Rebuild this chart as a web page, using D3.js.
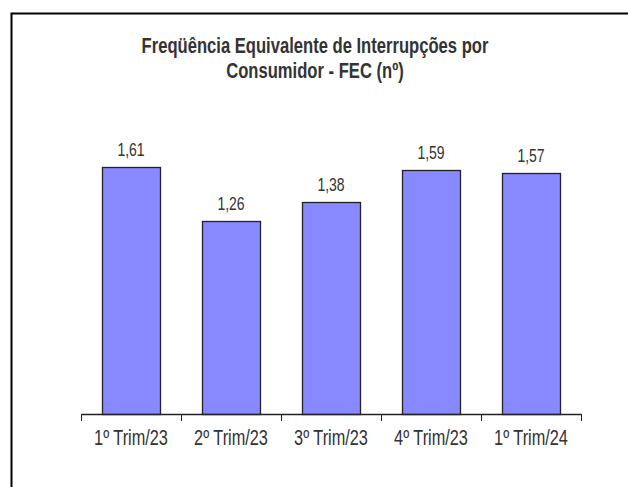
<!DOCTYPE html>
<html>
<head>
<meta charset="utf-8">
<script src="https://cdn.jsdelivr.net/npm/d3@7"></script>
<style>
  html, body { margin: 0; padding: 0; background: #fff; }
  svg { display: block; }
</style>
</head>
<body>
<svg id="chart" width="628" height="487"></svg>
<script>
// FEC quarterly values
const categories = ["1º Trim/23", "2º Trim/23", "3º Trim/23", "4º Trim/23", "1º Trim/24"];
const values = [1.61, 1.26, 1.38, 1.59, 1.57];
const titleLines = ["Freqüência Equivalente de Interrupções por", "Consumidor - FEC (nº)"];

const svg = d3.select("#chart");
const W = 628, H = 487;
const font = "Arial, 'Liberation Sans', sans-serif";
const stretch = 1.3; // tall, narrow lettering

// outer frame (top and left edges)
svg.append("path")
  .attr("d", `M11.5,${H} L11.5,13.5 L${W},13.5`)
  .attr("fill", "none")
  .attr("stroke", "#000")
  .attr("stroke-width", 2);

const plot = { left: 81, right: 581, bottom: 414, top: 138 };

const x = d3.scaleBand()
  .domain(categories)
  .range([plot.left, plot.right])
  .paddingInner(0.42)
  .paddingOuter(0.21);

const y = d3.scaleLinear()
  .domain([0, 1.8])
  .range([plot.bottom, plot.top]);

// title
svg.append("g")
  .selectAll("text")
  .data(titleLines)
  .join("text")
  .attr("transform", (d, i) => `translate(315,${53 + i * 25}) scale(1,${stretch})`)
  .attr("text-anchor", "middle")
  .attr("font-family", font)
  .attr("font-weight", "bold")
  .attr("font-size", 16.6)
  .attr("fill", "#333")
  .text(d => d);

// bars
svg.append("g")
  .selectAll("rect")
  .data(values)
  .join("rect")
  .attr("x", (d, i) => Math.round(x(categories[i])) + 0.5)
  .attr("y", d => Math.round(y(d)) + 0.5)
  .attr("width", Math.round(x.bandwidth()))
  .attr("height", d => Math.round(plot.bottom - y(d)))
  .attr("fill", "#8888ff")
  .attr("stroke", "#222")
  .attr("stroke-width", 1.3);

// value labels
const fmt = d => d.toFixed(2).replace(".", ",");
svg.append("g")
  .selectAll("text")
  .data(values)
  .join("text")
  .attr("transform", (d, i) => `translate(${x(categories[i]) + x.bandwidth() / 2},${y(d) - 11}) scale(1,${stretch})`)
  .attr("text-anchor", "middle")
  .attr("font-family", font)
  .attr("font-size", 14)
  .attr("fill", "#333")
  .text(fmt);

// category axis
const axis = d3.axisBottom(x).tickSize(0);
const gx = svg.append("g")
  .attr("transform", `translate(0,${plot.bottom})`)
  .call(axis);
gx.select(".domain")
  .attr("d", `M${plot.left},0.5H${plot.right}`)
  .attr("stroke", "#222")
  .attr("stroke-width", 1.3);
gx.selectAll(".tick text")
  .attr("y", null)
  .attr("dy", null)
  .attr("transform", `translate(0,31) scale(1,${stretch})`)
  .attr("font-family", font)
  .attr("font-size", 16.3)
  .attr("fill", "#333");

// tick marks at category boundaries
const edges = d3.range(categories.length + 1)
  .map(i => plot.left + i * (plot.right - plot.left) / categories.length);
gx.append("g")
  .selectAll("line")
  .data(edges)
  .join("line")
  .attr("x1", d => Math.round(d) + 0.5)
  .attr("x2", d => Math.round(d) + 0.5)
  .attr("y1", 0)
  .attr("y2", 7)
  .attr("stroke", "#222")
  .attr("stroke-width", 1);
</script>
</body>
</html>
